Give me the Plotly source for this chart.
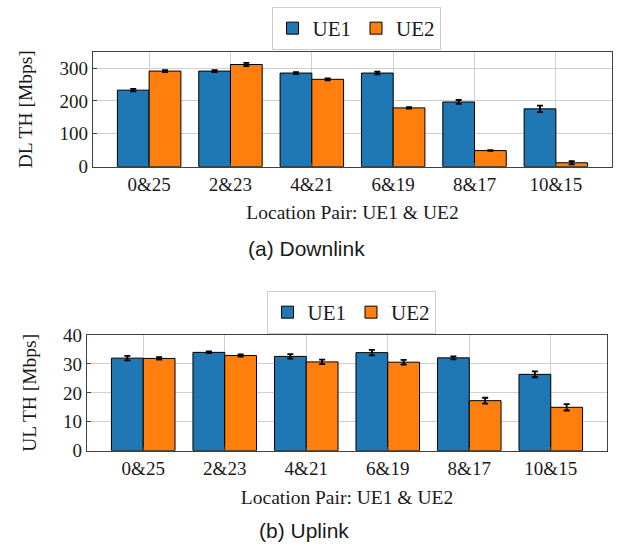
import plotly.graph_objects as go

categories = ["0&25", "2&23", "4&21", "6&19", "8&17", "10&15"]
dl_ue1 = [233, 291, 285, 285, 197, 176]
dl_ue1_err = [4, 3, 3, 4, 6, 10]
dl_ue2 = [291, 311, 266, 179, 49, 12]
dl_ue2_err = [3, 5, 3, 2, 1, 5]
ul_ue1 = [32.0, 34.0, 32.6, 33.9, 32.1, 26.4]
ul_ue1_err = [0.8, 0.3, 0.8, 0.95, 0.5, 1.0]
ul_ue2 = [31.9, 32.9, 30.7, 30.6, 17.3, 15.0]
ul_ue2_err = [0.4, 0.4, 0.8, 0.8, 1.0, 1.1]
dl_ticks = [0, 100, 200, 300]
ul_ticks = [0, 10, 20, 30, 40]

BLUE = "#1f77b4"
ORANGE = "#ff7f0e"
SERIF = "Liberation Serif, DejaVu Serif, serif"
SANS = "Liberation Sans, Arial, sans-serif"
TXT = "#1a1a1a"
W, H = 623, 544

fig = go.Figure()

def err(vals):
    return dict(type="data", array=vals, visible=True, color="black", thickness=1.8, width=3)

xs = list(range(len(categories)))
fig.add_trace(go.Bar(x=xs, y=dl_ue1, error_y=err(dl_ue1_err), name="UE1",
                     marker=dict(color=BLUE, line=dict(color="black", width=1)),
                     xaxis="x", yaxis="y", legend="legend"))
fig.add_trace(go.Bar(x=xs, y=dl_ue2, error_y=err(dl_ue2_err), name="UE2",
                     marker=dict(color=ORANGE, line=dict(color="black", width=1)),
                     xaxis="x", yaxis="y", legend="legend"))
fig.add_trace(go.Bar(x=xs, y=ul_ue1, error_y=err(ul_ue1_err), name="UE1",
                     marker=dict(color=BLUE, line=dict(color="black", width=1)),
                     xaxis="x2", yaxis="y2", legend="legend2"))
fig.add_trace(go.Bar(x=xs, y=ul_ue2, error_y=err(ul_ue2_err), name="UE2",
                     marker=dict(color=ORANGE, line=dict(color="black", width=1)),
                     xaxis="x2", yaxis="y2", legend="legend2"))

def px_x(a, b):
    return [a / W, b / W]

def px_y(top, bottom):
    return [(H - bottom) / H, (H - top) / H]

axis_common = dict(showline=True, linecolor="#404040", linewidth=1.2, mirror=True,
                   ticks="inside", ticklen=4, tickcolor="#404040", automargin=False,
                   showgrid=True, gridcolor="#cfcfcf", gridwidth=1, zeroline=False,
                   tickfont=dict(family=SERIF, size=19, color=TXT))

xaxis_common = dict(axis_common, tickmode="array", tickvals=xs, ticktext=categories,
                    range=[-0.69, 5.69])

title_font = dict(family=SERIF, size=19.5, color=TXT)
legend_common = dict(orientation="h", xanchor="center", yanchor="top",
                     bordercolor="#cccccc", borderwidth=1, bgcolor="white",
                     font=dict(family=SERIF, size=21, color=TXT), itemwidth=30,
                     tracegroupgap=0)

fig.update_layout(
    width=W, height=H,
    margin=dict(l=0, r=0, t=0, b=0),
    paper_bgcolor="white", plot_bgcolor="white",
    barmode="group", bargap=0.22, bargroupgap=0.0,
    xaxis=dict(xaxis_common, domain=px_x(93, 612), anchor="y",
               title=dict(text="Location Pair: UE1 & UE2", font=title_font, standoff=11)),
    yaxis=dict(axis_common, domain=px_y(51.7, 166.7), anchor="x", range=[0, 350],
               tickvals=dl_ticks,
               title=dict(text="DL TH [Mbps]", font=title_font, standoff=21)),
    xaxis2=dict(xaxis_common, domain=px_x(87, 607), anchor="y2",
                title=dict(text="Location Pair: UE1 & UE2", font=title_font, standoff=12)),
    yaxis2=dict(axis_common, domain=px_y(335, 450.7), anchor="x2", range=[0, 40],
                tickvals=ul_ticks,
                title=dict(text="UL TH [Mbps]", font=title_font, standoff=21)),
    legend=dict(legend_common, x=356 / W, y=(H - 7) / H),
    legend2=dict(legend_common, x=351 / W, y=(H - 291) / H),
    annotations=[
        dict(text="(a) Downlink", x=306 / W, y=(H - 248) / H, xref="paper", yref="paper",
             showarrow=False, font=dict(family=SANS, size=21, color=TXT), xanchor="center", yanchor="middle"),
        dict(text="(b) Uplink", x=304 / W, y=(H - 530) / H, xref="paper", yref="paper",
             showarrow=False, font=dict(family=SANS, size=21, color=TXT), xanchor="center", yanchor="middle"),
    ],
)

fig.write_html("out.html", config={"displayModeBar": False},
               post_script="document.body.style.margin='0';document.body.style.overflow='hidden';")
